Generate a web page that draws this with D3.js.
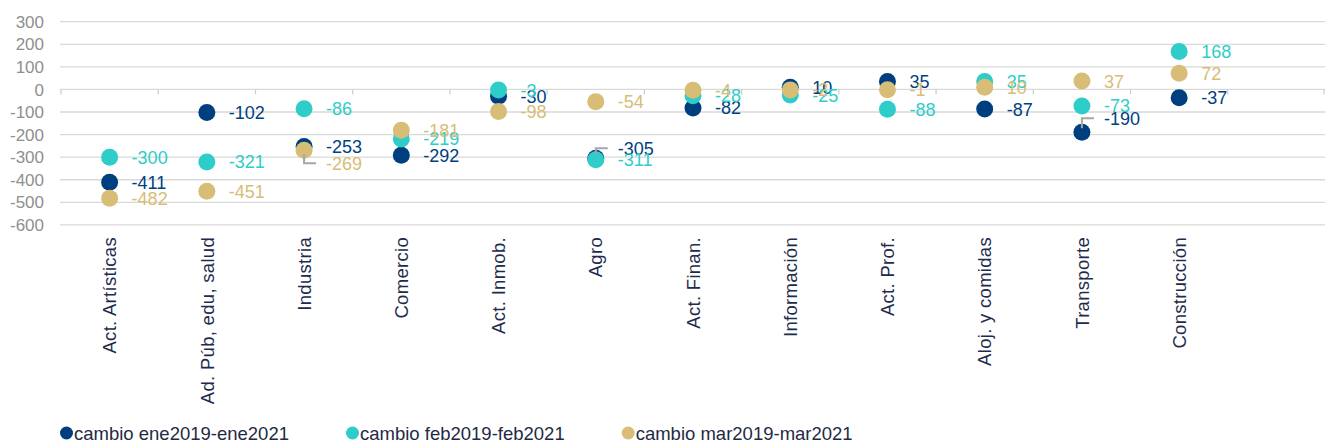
<!DOCTYPE html>
<html>
<head>
<meta charset="utf-8">
<script src="https://cdn.jsdelivr.net/npm/d3@7"></script>
<style>
  body { margin: 0; background: #fff; }
  svg text { font-family: "Liberation Sans", Arial, sans-serif; }
</style>
</head>
<body>
<svg id="chart" width="1325" height="446"></svg>
<script>
// categorias del eje x
var categories = ["Act. Artísticas", "Ad. Púb, edu, salud", "Industria", "Comercio", "Act. Inmob.",
  "Agro", "Act. Finan.", "Información", "Act. Prof.", "Aloj. y comidas", "Transporte", "Construcción"];

var ene = [-411, -102, -253, -292, -30, -305, -82, 10, 35, -87, -190, -37];
var feb = [-300, -321, -86, -219, -3, -311, -28, -25, -88, 35, -73, 168];
var mar = [-482, -451, -269, -181, -98, -54, -4, -2, -1, 10, 37, 72];

var seriesNames = ["cambio ene2019-ene2021", "cambio feb2019-feb2021", "cambio mar2019-mar2021"];
var yTicks = [300, 200, 100, 0, -100, -200, -300, -400, -500, -600];

var colors = ["#003f7f", "#2ecdc9", "#d8bd76"];
// etiquetas que excel movio con linea guia (serie, categoria -> dy px)
var nudge = { "2|2": 13, "0|5": -10, "0|10": -14 };

var svg = d3.select("#chart");
var width = 1325;

// slot vacio al final, como en el original
var x = d3.scaleBand().domain(categories.concat(["_"])).range([61, 1325]);
var y = d3.scaleLinear().domain([-600, 300]).range([224.9, 21.7]);

// grilla
svg.append("g").selectAll("line").data(yTicks).enter().append("line")
  .attr("x1", 60).attr("x2", width)
  .attr("y1", function(d) { return y(d); }).attr("y2", function(d) { return y(d); })
  .attr("stroke", "#d9d9d9").attr("stroke-width", 1.3);

// ticks sobre el eje cero
var bounds = x.domain().map(function(c) { return x(c); }).concat([x.range()[1] - 1]);
svg.append("g").selectAll("line").data(bounds).enter().append("line")
  .attr("x1", function(d) { return d; }).attr("x2", function(d) { return d; })
  .attr("y1", y(0)).attr("y2", y(0) + 5)
  .attr("stroke", "#cfcfcf").attr("stroke-width", 1.3);

// etiquetas eje y
svg.append("g").selectAll("text").data(yTicks).enter().append("text")
  .attr("x", 44).attr("y", function(d) { return y(d); }).attr("dy", "0.36em")
  .attr("text-anchor", "end").attr("font-size", 17).attr("fill", "#8f8f8f")
  .text(function(d) { return d; });

// etiquetas categorias
svg.append("g").selectAll("text").data(categories).enter().append("text")
  .attr("transform", function(d) { return "translate(" + (x(d) + x.bandwidth() / 2) + ",237) rotate(-90)"; })
  .attr("dy", "0.36em").attr("text-anchor", "end")
  .attr("font-size", 18.5).attr("letter-spacing", 0.3).attr("fill", "#1d2b4c")
  .text(function(d) { return d; });

var series = [ene, feb, mar];
var cx = function(i) { return x(categories[i]) + x.bandwidth() / 2; };

// puntos
series.forEach(function(vals, s) {
  svg.append("g").selectAll("circle").data(vals).enter().append("circle")
    .attr("cx", function(d, i) { return cx(i); })
    .attr("cy", function(d) { return y(d); })
    .attr("r", 8.5)
    .attr("fill", colors[s]);
});

// lineas guia
series.forEach(function(vals, s) {
  vals.forEach(function(v, i) {
    var dy = nudge[s + "|" + i];
    if (!dy) return;
    var x0 = cx(i), y0 = y(v), ly = y0 + dy;
    svg.append("path")
      .attr("d", "M" + x0 + "," + (y0 + (dy > 0 ? 4 : -4)) + "L" + x0 + "," + ly + "L" + (x0 + 12) + "," + ly)
      .attr("fill", "none").attr("stroke", "#a6a6a6").attr("stroke-width", 2);
  });
});

// etiquetas de datos
series.forEach(function(vals, s) {
  svg.append("g").selectAll("text").data(vals).enter().append("text")
    .attr("x", function(d, i) { return cx(i) + 22; })
    .attr("y", function(d, i) { return y(d) + (nudge[s + "|" + i] || 0); })
    .attr("dy", "0.36em")
    .attr("font-size", 18).attr("fill", colors[s])
    .text(function(d) { return d; });
});

// leyenda
var legend = svg.append("g").attr("transform", "translate(0,433)");
var lx = 60;
seriesNames.forEach(function(name, s) {
  legend.append("circle").attr("cx", lx + 6.5).attr("cy", 0).attr("r", 6.5).attr("fill", colors[s]);
  var t = legend.append("text").attr("x", lx + 14).attr("y", 0).attr("dy", "0.36em")
    .attr("font-size", 18.5).attr("fill", "#1f2a44").text(name);
  lx += 14 + t.node().getComputedTextLength() + 57;
});
</script>
</body>
</html>
